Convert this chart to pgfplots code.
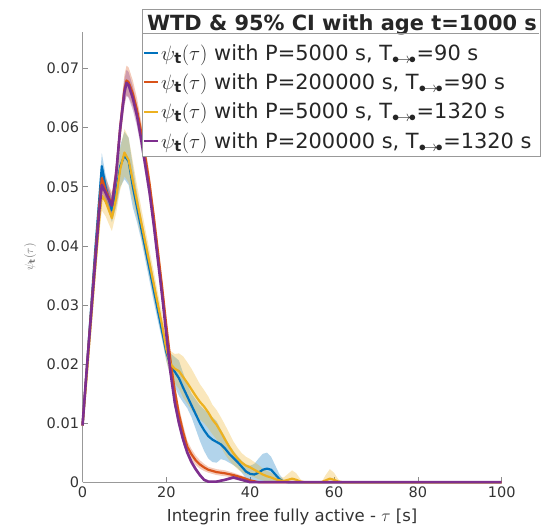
\documentclass[border=0pt]{standalone}
\usepackage{fontspec}
\setmainfont{DejaVu Sans}
\usepackage{pgfplots}
\usepackage{pgfplotstable}
\pgfplotsset{compat=1.18}
\usepgfplotslibrary{fillbetween}

\definecolor{mblue}{rgb}{0,0.447,0.741}
\definecolor{morange}{rgb}{0.85,0.325,0.098}
\definecolor{myellow}{rgb}{0.929,0.694,0.125}
\definecolor{mpurple}{rgb}{0.494,0.184,0.556}
\definecolor{txt}{gray}{0.2}

\pgfplotstableread{
x m lo hi
0 0.0096 0.0091 0.0101
1 0.0190 0.0182 0.0198
2 0.0290 0.0280 0.0300
3 0.0390 0.0375 0.0405
4 0.0480 0.0460 0.0500
4.6 0.0535 0.0513 0.0557
5.5 0.0500 0.0480 0.0520
7 0.0460 0.0440 0.0480
8 0.0490 0.0465 0.0515
9 0.0535 0.0500 0.0570
10 0.0553 0.0513 0.0593
11 0.0543 0.0503 0.0583
12 0.0500 0.0465 0.0535
13 0.0465 0.0440 0.0490
14 0.0430 0.0410 0.0450
15 0.0395 0.0375 0.0415
16 0.0360 0.0340 0.0380
17 0.0325 0.0305 0.0345
18 0.0290 0.0272 0.0308
19 0.0255 0.0240 0.0270
20 0.0220 0.0205 0.0235
21 0.0198 0.0178 0.0218
22 0.0187 0.0162 0.0212
23 0.0176 0.0146 0.0206
24 0.0160 0.0135 0.0185
25 0.0145 0.0125 0.0165
26 0.0130 0.0110 0.0150
27 0.0115 0.0090 0.0140
28 0.0100 0.0070 0.0130
29 0.0088 0.0053 0.0123
30 0.0078 0.0040 0.0116
31 0.0072 0.0034 0.0110
32 0.0068 0.0033 0.0103
33 0.0064 0.0039 0.0089
34 0.0057 0.0037 0.0077
35 0.0048 0.0033 0.0063
36 0.0041 0.0029 0.0053
37 0.0034 0.0024 0.0044
38 0.0026 0.0016 0.0036
39 0.0018 0.0006 0.0030
40 0.0014 0.0000 0.0028
41 0.0013 0.0000 0.0031
42 0.0016 0.0000 0.0040
43 0.0021 0.0000 0.0048
44 0.0023 0.0000 0.0050
45 0.0021 0.0000 0.0043
46 0.0013 0.0000 0.0028
47 0.0005 0.0000 0.0013
48 0.0001 0.0000 0.0004
49 0 0 0
100 0 0 0
}\blueT

\pgfplotstableread{
x m lo hi
0 0.0096 0.0091 0.0101
1 0.0190 0.0182 0.0198
2 0.0285 0.0275 0.0295
3 0.0380 0.0366 0.0394
4 0.0470 0.0452 0.0488
4.6 0.0515 0.0495 0.0535
5.5 0.0495 0.0475 0.0515
7 0.0470 0.0450 0.0490
8 0.0520 0.0500 0.0540
9 0.0600 0.0578 0.0622
10 0.0665 0.0640 0.0690
10.5 0.0680 0.0655 0.0705
11 0.0677 0.0652 0.0702
12 0.0658 0.0636 0.0680
13 0.0630 0.0610 0.0650
14 0.0593 0.0575 0.0611
15 0.0550 0.0533 0.0567
16 0.0505 0.0490 0.0520
17 0.0450 0.0436 0.0464
18 0.0390 0.0377 0.0403
19 0.0330 0.0318 0.0342
20 0.0265 0.0253 0.0277
21 0.0205 0.0192 0.0218
22 0.0155 0.0142 0.0168
23 0.0115 0.0102 0.0128
24 0.0085 0.0073 0.0097
25 0.0060 0.0050 0.0070
26 0.0047 0.0038 0.0056
27 0.0037 0.0029 0.0045
28 0.0030 0.0023 0.0037
29 0.0025 0.0019 0.0031
30 0.0021 0.0016 0.0026
32 0.0017 0.0012 0.0022
34 0.0015 0.0010 0.0020
36 0.0012 0.0008 0.0016
38 0.0008 0.0005 0.0011
40 0.0003 0.0001 0.0005
42 0 0 0
100 0 0 0
}\orangeT

\pgfplotstableread{
x m lo hi
0 0.0096 0.0091 0.0101
1 0.0180 0.0172 0.0188
2 0.0270 0.0258 0.0282
3 0.0360 0.0342 0.0378
4 0.0445 0.0420 0.0470
4.6 0.0485 0.0460 0.0510
5.5 0.0475 0.0450 0.0500
7 0.0447 0.0425 0.0469
8 0.0480 0.0455 0.0505
9 0.0530 0.0495 0.0565
10 0.0558 0.0518 0.0598
11 0.0545 0.0507 0.0583
12 0.0510 0.0477 0.0543
13 0.0475 0.0447 0.0503
14 0.0440 0.0415 0.0465
15 0.0405 0.0382 0.0428
16 0.0370 0.0348 0.0392
17 0.0335 0.0313 0.0357
18 0.0300 0.0280 0.0320
19 0.0265 0.0245 0.0285
20 0.0225 0.0205 0.0245
21 0.0200 0.0178 0.0222
22 0.0192 0.0167 0.0217
23 0.0188 0.0158 0.0218
24 0.0178 0.0143 0.0213
25 0.0168 0.0133 0.0203
26 0.0157 0.0122 0.0192
27 0.0146 0.0113 0.0179
28 0.0136 0.0106 0.0166
29 0.0128 0.0100 0.0156
30 0.0118 0.0091 0.0145
31 0.0106 0.0081 0.0131
32 0.0097 0.0072 0.0122
33 0.0085 0.0060 0.0110
34 0.0072 0.0047 0.0097
35 0.0060 0.0037 0.0083
36 0.0049 0.0029 0.0069
37 0.0040 0.0022 0.0058
38 0.0033 0.0017 0.0049
39 0.0028 0.0013 0.0043
40 0.0025 0.0011 0.0039
41 0.0021 0.0008 0.0034
42 0.0017 0.0005 0.0029
43 0.0013 0.0003 0.0023
44 0.0010 0.0001 0.0019
45 0.0008 0.0000 0.0016
46 0.0005 0.0000 0.0012
47 0.0003 0.0000 0.0008
48 0.0002 0.0000 0.0008
49 0.0004 0.0000 0.0014
50 0.0006 0.0000 0.0020
51 0.0004 0.0000 0.0015
52 0.0001 0.0000 0.0005
53 0 0 0
57 0 0 0
58 0.0003 0.0000 0.0012
59 0.0006 0.0000 0.0022
60 0.0004 0.0000 0.0016
61 0.0001 0.0000 0.0005
62 0 0 0
100 0 0 0
}\yellowT

\pgfplotstableread{
x m lo hi
0 0.0096 0.0092 0.0100
1 0.0190 0.0183 0.0197
2 0.0280 0.0270 0.0290
3 0.0370 0.0357 0.0383
4 0.0460 0.0444 0.0476
4.6 0.0503 0.0485 0.0521
5.5 0.0490 0.0472 0.0508
7 0.0468 0.0452 0.0484
8 0.0520 0.0502 0.0538
9 0.0600 0.0580 0.0620
10 0.0660 0.0638 0.0682
10.5 0.0676 0.0654 0.0698
11 0.0672 0.0650 0.0694
12 0.0650 0.0630 0.0670
13 0.0620 0.0602 0.0638
14 0.0580 0.0564 0.0596
15 0.0535 0.0520 0.0550
16 0.0490 0.0476 0.0504
17 0.0435 0.0422 0.0448
18 0.0375 0.0363 0.0387
19 0.0315 0.0304 0.0326
20 0.0250 0.0240 0.0260
21 0.0185 0.0175 0.0195
22 0.0135 0.0126 0.0144
23 0.0100 0.0092 0.0108
24 0.0072 0.0065 0.0079
25 0.0050 0.0044 0.0056
26 0.0034 0.0029 0.0039
27 0.0022 0.0018 0.0026
28 0.0012 0.0009 0.0015
29 0.0004 0.0002 0.0006
30 0.0001 0.0000 0.0002
32 0.0001 0.0000 0.0002
34 0.0004 0.0002 0.0006
36 0.0008 0.0005 0.0011
38 0.0004 0.0002 0.0006
40 0 0 0
100 0 0 0
}\purpleT

\begin{document}
\begin{tikzpicture}
\begin{axis}[
  name=ax,
  scale only axis, width=419pt, height=450pt,
  xmin=0, xmax=100, ymin=0, ymax=0.0762,
  scaled y ticks=false,
  axis x line*=bottom, axis y line*=left,
  axis line style={-, black!40, line width=0.8pt},
  tick align=inside, major tick length=5pt,
  tick style={black!45, line width=0.6pt},
  xtick={0,20,40,60,80,100},
  xticklabels={0,20,40,60,80,100},
  ytick={0,0.01,0.02,0.03,0.04,0.05,0.06,0.07},
  yticklabels={0,0.01,0.02,0.03,0.04,0.05,0.06,0.07},
  /pgf/number format/assume math mode=true,
  tick label style={font=\fontsize{14.5}{17}\selectfont, text=txt},
  xticklabel style={yshift=-1pt},
  xlabel={Integrin free fully active - $\tau$ [s]},
  xlabel style={font=\fontsize{16.5}{19}\selectfont, text=txt, at={(axis description cs:0.5,-0.078)}, anchor=center},
  ylabel={$\psi_{\mathbf{t}}(\tau)$},
  ylabel style={font=\fontsize{12}{14}\selectfont, text=black!55, at={(axis description cs:-0.125,0.5)}, anchor=center, rotate=0},
  clip=false,
  legend cell align=left,
  legend style={at={(axis description cs:0.142,1.052)}, anchor=north west,
    draw=black!40, fill=white, font=\fontsize{20.9}{25}\selectfont, text=black!85,
    inner xsep=1pt, inner ysep=4pt, row sep=8pt},
  legend image code/.code={\draw[#1, line width=1.8pt] (0pt,0pt) -- (14pt,0pt);},
]
\addlegendimage{empty legend}
\addlegendentry{\hspace*{-14pt}\bfseries WTD \& 95\% CI with age t=1000 s}

% confidence bands
\addplot[name path=bU, draw=none, forget plot] table[x=x,y=hi]{\blueT};
\addplot[name path=bL, draw=none, forget plot] table[x=x,y=lo]{\blueT};
\addplot[mblue, fill opacity=0.3, draw=none, forget plot] fill between[of=bU and bL];
\addplot[name path=oU, draw=none, forget plot] table[x=x,y=hi]{\orangeT};
\addplot[name path=oL, draw=none, forget plot] table[x=x,y=lo]{\orangeT};
\addplot[morange, fill opacity=0.3, draw=none, forget plot] fill between[of=oU and oL];
\addplot[name path=yU, draw=none, forget plot] table[x=x,y=hi]{\yellowT};
\addplot[name path=yL, draw=none, forget plot] table[x=x,y=lo]{\yellowT};
\addplot[myellow, fill opacity=0.3, draw=none, forget plot] fill between[of=yU and yL];
\addplot[name path=pU, draw=none, forget plot] table[x=x,y=hi]{\purpleT};
\addplot[name path=pL, draw=none, forget plot] table[x=x,y=lo]{\purpleT};
\addplot[mpurple, fill opacity=0.3, draw=none, forget plot] fill between[of=pU and pL];

% mean curves
\addplot[mblue, line width=2.2pt, line join=round] table[x=x,y=m]{\blueT};
\addlegendentry{$\psi_{\mathbf{t}}(\tau)$ with P=5000 s, T$_{\bullet\!\rightarrow\!\bullet}$=90 s}
\addplot[morange, line width=2.2pt, line join=round] table[x=x,y=m]{\orangeT};
\addlegendentry{$\psi_{\mathbf{t}}(\tau)$ with P=200000 s, T$_{\bullet\!\rightarrow\!\bullet}$=90 s}
\addplot[myellow, line width=2.2pt, line join=round] table[x=x,y=m]{\yellowT};
\addlegendentry{$\psi_{\mathbf{t}}(\tau)$ with P=5000 s, T$_{\bullet\!\rightarrow\!\bullet}$=1320 s}
\addplot[mpurple, line width=2.6pt, line join=round] table[x=x,y=m]{\purpleT};
\addlegendentry{$\psi_{\mathbf{t}}(\tau)$ with P=200000 s, T$_{\bullet\!\rightarrow\!\bullet}$=1320 s}
\end{axis}
\draw[black!40, line width=0.6pt] ([xshift=59.5pt,yshift=-1pt]ax.north west) -- ++(397pt,0);
\pgfresetboundingbox
\path ([shift={(-82.5pt,-44pt)}]ax.south west) rectangle ([shift={(39.3pt,32pt)}]ax.north east);
\end{tikzpicture}
\end{document}
